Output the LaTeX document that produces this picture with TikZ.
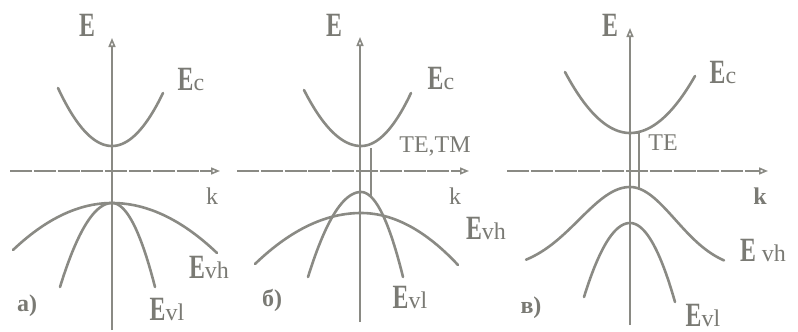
\documentclass[tikz,border=0pt]{standalone}
\usepackage{graphicx}
\usepackage{fontspec}
\setmainfont{Liberation Serif}
\usetikzlibrary{arrows.meta}
\definecolor{lg}{RGB}{138,138,132}
\definecolor{tg}{RGB}{122,122,116}
% two-sided parabola: x0 y0 xl yl xr yr
\newcommand\bandcurve[6]{%
  \draw[curve] plot[domain=#3:#1,samples=30] (\x,{#2+(#4-#2)*((\x-#1)/(#3-#1))*((\x-#1)/(#3-#1))})
    -- plot[domain=#1:#5,samples=30] (\x,{#2+(#6-#2)*((\x-#1)/(#5-#1))*((\x-#1)/(#5-#1))});}
\newcommand\capE{\scalebox{0.7}[1]{\bfseries E}}
\newcommand\subt[1]{{\fontsize{24}{24}\selectfont #1}}
\begin{document}
\begin{tikzpicture}[x=1pt,y=-1pt,
  curve/.style={draw=lg,line width=2.6pt,line cap=round},
  axis/.style={draw=lg,line width=1.6pt},
  thin/.style={draw=lg,line width=1.2pt},
  arr/.style={-{Triangle[open,length=9pt,width=7pt]}},
  lab/.style={text=tg,inner sep=0pt,font=\fontsize{34}{34}\selectfont},
  small/.style={text=tg,inner sep=0pt,font=\fontsize{24}{24}\selectfont},
  bsmall/.style={small,font=\fontsize{24}{24}\selectfont\bfseries},
  kdash/.style={dash pattern=on 22pt off 1.8pt}]
\useasboundingbox (0,0) rectangle (798,332);
% ---------------- panel a
\coordinate (aEb) at (112,330); \coordinate (aEt) at (112,38);
\coordinate (akl) at (10,171);  \coordinate (akr) at (220,171);
\draw[axis,arr] (aEb) -- (aEt);
\draw[axis,arr,kdash] (akl) -- (akr);
\bandcurve{112}{146}{58}{88}{163}{93}
\bandcurve{112}{203}{13}{250}{217}{253}
\bandcurve{112}{203}{60}{287}{155}{287}
\node[lab] (aE) at (87,25) {\capE};
\node[lab] (aEc) at (191,79) {\capE\subt{c}};
\node[lab] (aEvh) at (209,267) {\capE\subt{vh}};
\node[lab] (aEvl) at (167,309) {\capE\subt{vl}};
\node[small] (ak) at (212,196) {k};
\node[bsmall] (alab) at (27,306) {а)};
% ---------------- panel b
\coordinate (bEb) at (360,322); \coordinate (bEt) at (360,37);
\coordinate (bkl) at (237,171); \coordinate (bkr) at (469,171);
\draw[axis,arr] (bEb) -- (bEt);
\draw[axis,arr,kdash] (bkl) -- (bkr);
\bandcurve{361}{146}{304}{90}{411}{93}
\bandcurve{361}{192}{308}{277}{403}{277}
\bandcurve{361}{213}{255}{264}{458}{265}
\coordinate (bt1) at (371,148); \coordinate (bt2) at (371,196);
\draw[thin] (bt1) -- (bt2);
\node[lab] (bE) at (334,25) {\capE};
\node[lab] (bEc) at (441,78) {\capE\subt{c}};
\node[small] (bTE) at (435,146) {TE,TM};
\node[small] (bk) at (455,196) {k};
\node[lab] (bEvh) at (486,228) {\capE\subt{vh}};
\node[lab] (bEvl) at (410,297) {\capE\subt{vl}};
\node[bsmall] (blab) at (272,300) {б)};
% ---------------- panel c
\coordinate (cEb) at (630,325); \coordinate (cEt) at (630,28);
\coordinate (ckl) at (507,171); \coordinate (ckr) at (768,171);
\draw[axis,arr] (cEb) -- (cEt);
\draw[axis,arr,kdash] (ckl) -- (ckr);
\bandcurve{630}{133}{565}{72}{695}{76}
\draw[curve] plot[domain=526:630,samples=40] (\x,{270-83*exp(-((\x-630)/72)*((\x-630)/72))})
  -- plot[domain=630:724,samples=40] (\x,{270-83*exp(-((\x-630)/64)*((\x-630)/64))});
\bandcurve{630}{223}{584}{297}{675}{302}
\coordinate (ct1) at (630,133); \coordinate (ct2) at (639,133); \coordinate (ct3) at (639,188);
\draw[thin] (ct1) -- (ct2) -- (ct3);
\node[lab] (cE) at (610,25) {\capE};
\node[lab] (cEc) at (723,72) {\capE\subt{c}};
\node[small] (cTE) at (663,143) {TE};
\node[bsmall] (ck) at (760,196) {k};
\node[lab] (cEvh) at (763,250) {\capE\,\subt{vh}};
\node[lab] (cEvl) at (703,315) {\capE\subt{vl}};
\node[bsmall] (clab) at (531,308) {в)};
\end{tikzpicture}
\end{document}
